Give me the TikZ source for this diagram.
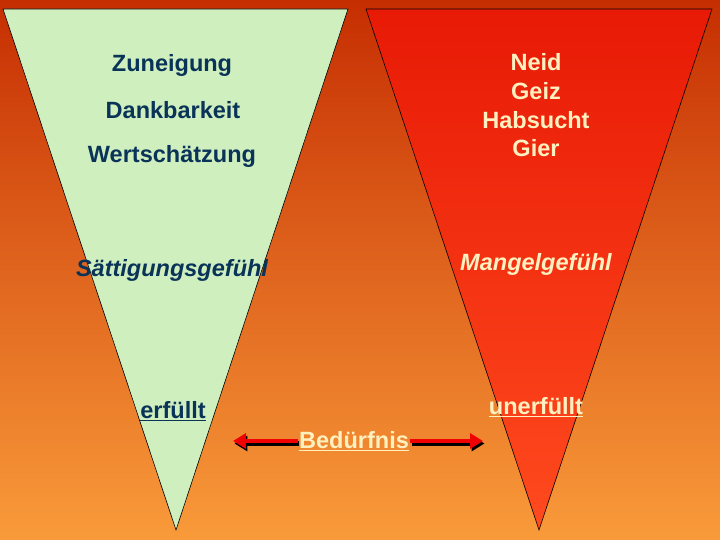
\documentclass[tikz,border=0pt]{standalone}
\usepackage{fontspec}
\setmainfont{Liberation Sans}
\usetikzlibrary{arrows.meta}
\definecolor{bgtop}{HTML}{C62E02}
\definecolor{bgmid}{HTML}{E26A22}
\definecolor{bgbot}{HTML}{F99B3A}
\definecolor{greenfill}{HTML}{CFEFBF}
\definecolor{redtop}{HTML}{E81A06}
\definecolor{redbot}{HTML}{FF4A1E}
\definecolor{navy}{HTML}{0A3358}
\definecolor{cream}{HTML}{FFF0C0}
\definecolor{arrowred}{HTML}{F00000}
\tikzset{
  funnel/.style={draw=black, line width=0.6pt},
  lbl/.style={font=\bfseries\fontsize{23.6}{28}\selectfont, inner sep=1pt},
  lblit/.style={font=\bfseries\itshape\fontsize{23.6}{28}\selectfont, inner sep=1pt},
  navytext/.style={text=navy},
  creamtext/.style={text=cream},
  bigarrow/.style={line width=5pt, -{Triangle[length=13pt,width=15pt]}},
}
\begin{document}
\begin{tikzpicture}[x=1bp,y=-1bp]
\useasboundingbox (0,0) rectangle (720,540);
\shade[top color=bgtop, middle color=bgmid, bottom color=bgbot] (0,0) rectangle (720,540);
% funnels
\fill[greenfill] (3,9) -- (348,9) -- (176,530) -- cycle;
\draw[funnel] (3,9) -- (348,9) -- (176,530) -- cycle;
\shade[top color=redtop, bottom color=redbot] (366,9) -- (712,9) -- (539,530) -- cycle;
\draw[funnel] (366,9) -- (712,9) -- (539,530) -- cycle;
% left texts
\node[lbl,navytext] (zun) at (172,65) {Zuneigung};
\node[lbl,navytext] (dank) at (173,110) {Dankbarkeit};
\node[lbl,navytext] (wert) at (172,156) {Wertschätzung};
\node[lblit,navytext] (satt) at (172,270) {Sättigungsgefühl};
\node[lbl,navytext] (erf) at (173,411) {\underline{erfüllt}};
% right texts
\node[lbl,creamtext] (neid) at (536,62) {Neid};
\node[lbl,creamtext] (geiz) at (536,91) {Geiz};
\node[lbl,creamtext] (hab) at (536,120) {Habsucht};
\node[lbl,creamtext] (gier) at (536,148) {Gier};
\node[lblit,creamtext] (mang) at (536,264) {Mangelgefühl};
\node[lbl,creamtext] (unerf) at (536,407) {\underline{unerfüllt}};
% need
\node[lbl,creamtext] (bed) at (354,441) {\underline{Bedürfnis}};
\coordinate (lt) at (233,441);
\coordinate (rt) at (483,441);
\draw[bigarrow, black] ([shift={(1.5,2.5)}]bed.west) -- ([shift={(1.5,2.5)}]lt);
\draw[bigarrow, black] ([shift={(1.5,2.5)}]bed.east) -- ([shift={(1.5,2.5)}]rt);
\draw[bigarrow, arrowred] (bed.west) -- (lt);
\draw[bigarrow, arrowred] (bed.east) -- (rt);
\end{tikzpicture}
\end{document}
